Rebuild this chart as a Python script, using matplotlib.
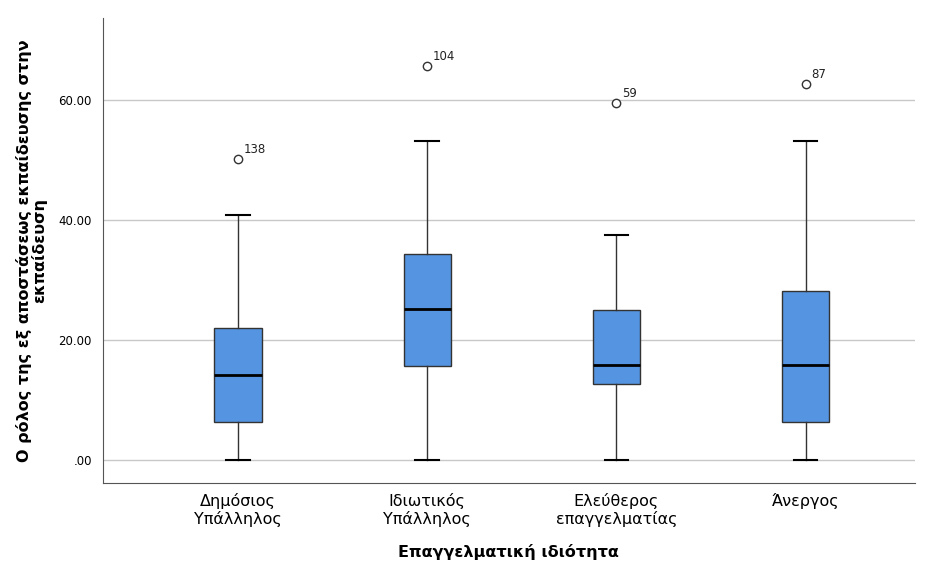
import matplotlib.pyplot as plt

categories = ["Δημόσιος\nΥπάλληλος", "Ιδιωτικός\nΥπάλληλος", "Ελεύθερος\nεπαγγελματίας", "Άνεργος"]
whislo = [0.0, 0.0, 0.0, 0.0]
q1 = [6.3, 15.7, 12.7, 6.3]
med = [14.2, 25.2, 15.8, 15.8]
q3 = [22.0, 34.3, 25.0, 28.2]
whishi = [40.8, 53.2, 37.5, 53.2]
outliers = [50.2, 65.7, 59.5, 62.7]
outlier_ids = ["138", "104", "59", "87"]

plt.rcParams['font.family'] = ['DejaVu Sans']

fig = plt.figure(figsize=(9.31, 5.62), dpi=100)
ax = fig.add_axes([0.1106, 0.1406, 0.872, 0.828])

stats = []
for i in range(len(categories)):
    stats.append(dict(whislo=whislo[i], q1=q1[i], med=med[i], q3=q3[i],
                      whishi=whishi[i], fliers=[outliers[i]]))

pos = list(range(1, len(categories) + 1))
ax.bxp(stats, positions=pos, widths=0.25, patch_artist=True,
       boxprops=dict(facecolor="#5594e0", edgecolor="#333333", linewidth=1.0),
       medianprops=dict(color="black", linewidth=2),
       whiskerprops=dict(color="#333333", linewidth=1.0),
       capprops=dict(color="black", linewidth=1.5),
       capwidths=0.125,
       flierprops=dict(marker="o", markerfacecolor="white", markeredgecolor="#333333",
                       markersize=6, linestyle="none"),
       zorder=3)

for p, v, lab in zip(pos, outliers, outlier_ids):
    ax.annotate(lab, (p, v), xytext=(4, 4), textcoords="offset points",
                fontsize=8.5, color="#222222")

ax.set_xlim(0.286, 4.577)
ax.set_ylim(-3.8, 73.7)
ax.set_yticks([0, 20, 40, 60])
ax.set_yticklabels([".00", "20.00", "40.00", "60.00"], fontsize=8.5)
ax.set_xticks(pos)
ax.set_xticklabels(categories, fontsize=11.5)
ax.tick_params(length=0, pad=8)
ax.tick_params(axis="x", pad=7)
ax.grid(axis="y", color="#c8c8c8", linewidth=1.0, zorder=0)
ax.set_axisbelow(True)

for s in ["top", "right"]:
    ax.spines[s].set_visible(False)
for s in ["left", "bottom"]:
    ax.spines[s].set_color("#555555")

ax.set_xlabel("Επαγγελματική ιδιότητα", fontsize=11.5, fontweight="bold", labelpad=12)
ax.set_ylabel("Ο ρόλος της εξ αποστάσεως εκπαίδευσης στην\nεκπαίδευση", fontsize=11.5,
              fontweight="bold", labelpad=8, linespacing=0.95)

fig.savefig("out.png", dpi=100)
